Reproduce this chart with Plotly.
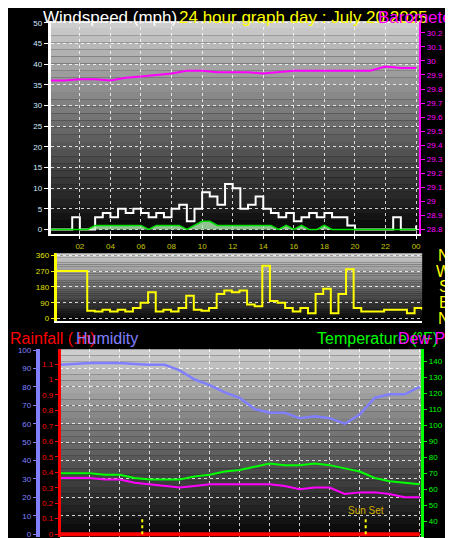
import plotly.graph_objects as go

# ---- data ----
hours_30 = [h * 0.5 for h in range(49)]
hours_1 = list(range(25))

wind_speed = [0, 0, 0, 3, 0, 0, 3, 4, 3, 5, 4, 5, 4, 3, 4, 3, 5, 6, 2, 5, 9, 8, 6, 11, 10,
              5, 6, 8, 5, 4, 3, 4, 2, 3, 4, 3, 4, 3, 3, 1, 0, 0, 0, 0, 0, 3, 0, 0, 1]
wind_avg = [0, 0, 0, 0, 0, 0, 1, 1, 1, 1, 1, 1, 1, 0, 1, 1, 1, 1, 0, 1, 2, 2, 1, 1, 1,
            1, 1, 1, 1, 1, 0, 1, 0, 1, 0, 0, 1, 0, 0, 0, 0, 0, 0, 0, 0, 0, 0, 0, 0]
pressure = [29.86, 29.86, 29.87, 29.87, 29.86, 29.88, 29.89, 29.90, 29.91, 29.93, 29.93, 29.92,
            29.92, 29.92, 29.91, 29.92, 29.93, 29.93, 29.93, 29.93, 29.93, 29.93, 29.96, 29.95, 29.95]
wind_dir = [270, 270, 270, 270, 45, 40, 50, 40, 50, 40, 60, 90, 150, 40, 50, 40, 60, 130, 50, 45,
            60, 140, 160, 150, 160, 80, 70, 300, 100, 90, 60, 40, 60, 30, 140, 170, 30, 140, 280, 60,
            40, 40, 40, 50, 50, 50, 30, 60, 50]
humidity = [92, 92.5, 93, 93, 93, 92.5, 92, 92, 89, 84, 81, 77, 74, 68, 66, 66, 63, 64, 63, 60,
            65, 74, 76, 76, 80]
temperature = [70, 70, 70, 69, 69, 67, 66, 66, 66, 68, 69, 71, 72, 74, 76, 75, 75, 76, 75, 73,
               71, 67, 65, 64, 63]
dew_point = [67, 67, 67, 66, 66, 64, 63, 62, 61, 62, 63, 63, 63, 63, 63, 62, 60, 61, 61, 57,
             58, 58, 57, 55, 55]
rainfall = [0] * 25
sun_events = [5.5, 20.4]
hour_ticks = list(range(2, 25, 2))
hour_labels = ['%02d' % (h % 24) for h in hour_ticks]

W, H = 453, 538
FONT = 'Liberation Sans, Arial, sans-serif'


def px_x(p):
    return p / W


def px_y(p):
    return 1 - p / H


fig = go.Figure()

# panel 1: wind + pressure
fig.add_trace(go.Scatter(x=hours_30, y=wind_speed, mode='lines', line=dict(color='white', width=2, shape='hv'),
                         xaxis='x', yaxis='y'))
fig.add_trace(go.Scatter(x=hours_30, y=wind_avg, mode='lines', fill='tozeroy', fillcolor='rgba(180,240,180,0.8)',
                         line=dict(color='#00e000', width=1.5), xaxis='x', yaxis='y'))
fig.add_trace(go.Scatter(x=hours_1, y=pressure, mode='lines', line=dict(color='#ff00ff', width=2),
                         xaxis='x', yaxis='y2'))
# panel 2: wind direction
fig.add_trace(go.Scatter(x=hours_30, y=wind_dir, mode='lines', line=dict(color='yellow', width=2, shape='hv'),
                         xaxis='x2', yaxis='y3'))
# panel 3
fig.add_trace(go.Scatter(x=hours_1, y=humidity, mode='lines', line=dict(color='#8080ff', width=2.5),
                         xaxis='x3', yaxis='y4'))
fig.add_trace(go.Scatter(x=hours_1, y=rainfall, mode='lines', line=dict(color='red', width=4),
                         xaxis='x3', yaxis='y5'))
fig.add_trace(go.Scatter(x=hours_1, y=temperature, mode='lines', line=dict(color='#00ff00', width=2),
                         xaxis='x3', yaxis='y6'))
fig.add_trace(go.Scatter(x=hours_1, y=dew_point, mode='lines', line=dict(color='#ff00ff', width=2),
                         xaxis='x3', yaxis='y6'))

grid = dict(showgrid=True, gridcolor='rgba(255,255,255,0.8)', griddash='dot', gridwidth=1, zeroline=False)
tickf = dict(size=8, family=FONT)

layout = dict(
    width=W, height=H, margin=dict(l=0, r=0, t=0, b=0), showlegend=False,
    paper_bgcolor='black', plot_bgcolor='rgba(0,0,0,0)', font=dict(family=FONT),
    xaxis=dict(domain=[px_x(43), px_x(413)], range=[0.1, 24.2], anchor='y', tickvals=hour_ticks,
               ticktext=hour_labels, tickfont=dict(tickf, color='#c8c800'), showline=True, linecolor='white',
               linewidth=2, ticks='outside', tickcolor='white', ticklen=3, **grid),
    yaxis=dict(domain=[px_y(226), px_y(10)], range=[-1.2, 50.5], dtick=5, tick0=0, anchor='x',
               tickfont=dict(tickf, color='#d0e8ff'), showline=True, linecolor='white', linewidth=3,
               ticks='outside', tickcolor='white', ticklen=4, **grid),
    yaxis2=dict(overlaying='y', side='right', anchor='x', range=[28.765, 30.285], tick0=28.8, dtick=0.1,
                tickfont=dict(tickf, color='#ff00ff'), showline=True, linecolor='#ff00ff', linewidth=2,
                ticks='outside', tickcolor='#ff00ff', ticklen=4, showgrid=False, zeroline=False),
    xaxis2=dict(domain=[px_x(49), px_x(416)], range=[0, 24], anchor='y3', showticklabels=False,
                showline=True, linecolor='white', linewidth=2, showgrid=False, zeroline=False),
    yaxis3=dict(domain=[px_y(313), px_y(245)], range=[-11, 371], tickvals=[0, 90, 180, 270, 360],
                anchor='x2', tickfont=dict(tickf, color='#e0e000'), showline=True, linecolor='yellow',
                linewidth=3, ticks='outside', tickcolor='yellow', ticklen=3, **grid),
    xaxis3=dict(domain=[px_x(52), px_x(415)], range=[0, 24.1], anchor='y4', tickvals=list(range(0, 25, 2)),
                showticklabels=False, showline=True, linecolor='white', linewidth=2,
                ticks='outside', tickcolor='white', ticklen=3, **grid),
    yaxis4=dict(domain=[px_y(532), px_y(342)], range=[-1.6, 100.5], dtick=10, tick0=0, anchor='free',
                position=px_x(30), tickfont=dict(tickf, color='#8080ff'), showline=True, linecolor='#8080ff',
                linewidth=4, ticks='outside', tickcolor='#8080ff', ticklen=3, **grid),
    yaxis5=dict(overlaying='y4', anchor='free', position=px_x(51), range=[-0.019, 1.196], dtick=0.1, tick0=0,
                tickfont=dict(tickf, color='red'), showline=True, linecolor='red', linewidth=3,
                ticks='outside', tickcolor='red', ticklen=3, showgrid=False, zeroline=False),
    yaxis6=dict(overlaying='y4', side='right', anchor='x3', range=[30.1, 147.4],
                tickvals=list(range(40, 150, 10)), tickfont=dict(tickf, color='#00ff00'), showline=True,
                linecolor='#00ff00', linewidth=3, ticks='outside', tickcolor='#00ff00', ticklen=3,
                showgrid=False, zeroline=False),
)

# gradient backgrounds
shapes = []
n = 30
for xr, yr in [('x domain', 'y domain'), ('x2 domain', 'y3 domain'), ('x3 domain', 'y4 domain')]:
    for i in range(n):
        v = int(205 * (i + 1) / n)
        shapes.append(dict(type='rect', xref=xr, yref=yr, x0=0, x1=1, y0=i / n, y1=(i + 1) / n,
                           fillcolor='rgb(%d,%d,%d)' % (v, v, v), line=dict(width=0), layer='below'))
for s in sun_events:
    shapes.append(dict(type='line', xref='x3', yref='y4', x0=s, x1=s, y0=0, y1=9,
                       line=dict(color='yellow', width=2, dash='dot')))
layout['shapes'] = shapes

big = dict(family=FONT, size=17)
mid = dict(family=FONT, size=16)
ann = [
    dict(text='Windspeed (mph)', x=px_x(33), y=px_y(-5), font=dict(big, color='white')),
    dict(text='24 hour graph day : July 20 2025', x=px_x(170), y=px_y(-5), font=dict(big, color='yellow')),
    dict(text='Barometer (in)', x=px_x(370), y=px_y(-5), font=dict(big, color='#ff00ff')),
    dict(text='Rainfall (.in)', x=0, y=px_y(321), font=dict(mid, color='red')),
    dict(text='Humidity', x=px_x(66), y=px_y(321), font=dict(mid, color='#8080ff')),
    dict(text='Temperature (°F)', x=px_x(308), y=px_y(321), font=dict(mid, color='#00ff00')),
    dict(text='Dew Point', x=px_x(390), y=px_y(321), font=dict(mid, color='#ff00ff')),
]
annotations = [dict(a, xref='paper', yref='paper', xanchor='left', yanchor='top', showarrow=False) for a in ann]
for lab, v in zip(['N', 'W', 'S', 'E', 'N'], [360, 270, 180, 90, 0]):
    annotations.append(dict(text=lab, xref='paper', yref='y3', x=px_x(438), y=v, showarrow=False,
                            xanchor='center', yanchor='middle', font=dict(family=FONT, size=16, color='yellow')))
annotations.append(dict(text='Sun Set', xref='x3', yref='y4', x=sun_events[1], y=9, yanchor='bottom',
                        showarrow=False, font=dict(family=FONT, size=10, color='#d4b000')))
layout['annotations'] = annotations

fig.update_layout(**layout)
fig.write_html('out.html')
